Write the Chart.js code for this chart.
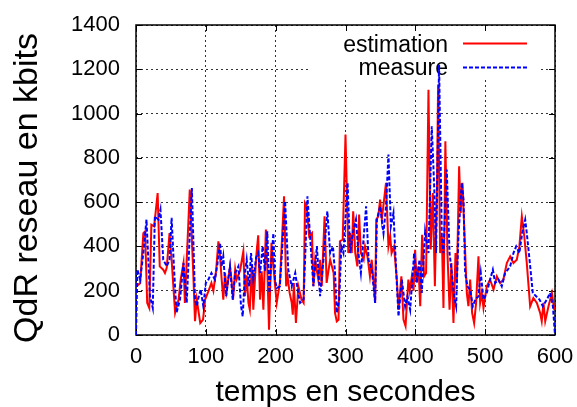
<!DOCTYPE html>
<html><head><meta charset="utf-8">
<script src="https://cdn.jsdelivr.net/npm/chart.js@4"></script>
<style>html,body{margin:0;padding:0;background:#fff}canvas{display:block}</style>
</head><body>
<canvas id="c" width="577" height="407"></canvas>
<script>
const xTicks = [0, 100, 200, 300, 400, 500, 600];
const yTicks = [0, 200, 400, 600, 800, 1000, 1200, 1400];
const seriesLabels = ['estimation', 'measure'];
const xTitle = 'temps en secondes';
const yTitle = 'QdR reseau en kbits';

const estTime = [
  1,6,10.5,13,16, 19,22,26,31,34, 39,41.5,44,48,51, 56,61,64,68,70, 77,82,84.5,87,92,
  96,99,103.6,108,110.8, 114.6,118,120.3,122.7,125, 127.5,130,134.6,137,139, 142,144,149,153.7,156, 158.5,161,163,165.7,168, 172,175,177.6,180,182.4, 186,188,190.5,194,196.7, 201.5,206,
  212,215,217,220,223, 224.5,226,229,232.5,237, 240,242,244.5,248,252, 254,256.5,261,263.5,266, 270,273,278,283,285, 287.5,290,292,296,300, 304,306.5,309,311,314, 317,319.5,322,326,328, 331.5,335,337.5,340,342.5, 344,347,349.5,352,358, 361.5,364,366,369.5,373.5, 376,380,
  383,386,390,392,395, 397.5,399.7,402,404.5,407, 409.7,
  412.6,415.4,418.8,422,425, 428,431,432.6,435.5,438, 440.3,443,446,449,451.7, 454.6,457.5,459.4,462.7,465, 467.5,470.3,473.7,476,478.5, 481.3,484.2,487,490.4,492.8, 495.2,497.6,502.3,507,512, 516.7,521.4,526,531,535.8, 540.5,545.3,549,552.5,556, 559.6,564.4,569,574,578.7, 581,583.5,586,590.7,595.5, 599];
const estValue = [
  220,235,460,468,145, 122,498,491,641,310, 295,280,303,460,340, 100,160,250,325,145, 657,280,62,160,54,
  70,160,197,235,200, 288,423,355,250,160, 280,200,310,240,160, 295,250,290,378,175, 270,145,114,310,114, 348,450,160,288,114, 476,310,24,416,310, 145,235,
  626,220,265,190,145, 92,235,54,220,160, 145,596,581,446,460, 220,340,250,340,220, 536,235,340,280,100, 62,69,423,431,905, 370,460,370,559,370, 310,544,370,340,400, 355,265,340,250,145, 521,536,611,521,687, 400,446,370,400,250, 114,265,
  70,40,250,200,265, 200,385,240,310,130, 453,
  265,280,1108,386,641, 220,672,1131,370,446, 122,875,370,114,325, 54,370,235,762,551, 687,460,190,130,250, 100,54,145,355,145, 190,122,220,250,205, 265,235,250,325,355, 325,340,400,536,446, 325,130,167,145,100, 62,145,62,130,190, 114];

const measTime = [
  0,2,6,10.5,15, 20,24,27,32,35, 39,44,48,51,54.5, 58,63,68,72.6,80,
  84.5,87,89.5,92.6,96.4, 100,103.6,108,113,116.5, 120.3,122.7,125,129,132, 134.6,138.5,142,146.6,150.4, 152.8,156,158.5,162,164.7, 168,172,175,177.6,181.4, 184.8,188,191,193,196.7, 199,201.5,
  206,213.5,218,223,228, 232.6,235,240,245.5,249, 254,259,263.6,268.4,274, 278,282,285,287.5,291, 294,297,303,306.6,310.4, 315,318.5,322,329.5,333, 337.7,342.4,345,349.6,354.4, 358,361.5,365,368.7,372.5, 375.9,380.6,385.4,388.7,392.6, 398.3,402,406,409.2,414, 418.8,423.5,427,429.7,434, 437.9,440.3,445,449,452.2, 455.5,458.4,461.7,466.5,469, 471.3,474.6,478.5,482.3,486, 490.4,493.7,497.6,502.3,507, 511,514.3,519,523.8,528.6, 532.4,535.8,540.5,544.4,549, 553,557.3,559.6,563.5,568.2, 573,577.8,582.6,588.3,593, 597,600];
const measValue = [
  0,295,250,370,521, 175,122,536,521,566, 340,310,340,529,295, 100,160,325,145,664,
  160,130,170,205,130, 235,250,280,250,318, 416,310,355,175,250, 310,160,280,310,130, 84,280,340,220,370, 250,350,370,280,400, 290,468,190,290,460, 250,212,
  220,604,295,220,280, 182,145,160,626,460, 220,400,175,340,559, 370,400,280,100,160, 400,370,687,370,460, 521,370,280,581,340, 295,145,521,581,460, 581,815,491,551,295, 84,250,130,175,114, 370,235,340,190,468, 370,943,672,370,1220, 446,370,747,370,280, 175,130,446,687,611, 280,220,205,130,160, 175,280,160,190,250, 295,235,250,220,280, 295,310,370,400,370, 460,521,460,340,190, 175,160,130,160,190, 130,0];

const FONT = '"Liberation Sans", Arial, Helvetica, sans-serif';
const toPoints = (t, v) => t.slice(0, Math.min(t.length, v.length)).map((x, i) => ({ x: x, y: v[i] }));

const framePlugin = {
  id: 'frame',
  beforeDatasetsDraw(chart) {
    const { ctx, chartArea: a, scales } = chart;
    ctx.save();
    // opaque key box
    ctx.fillStyle = '#fff';
    ctx.fillRect(a.right - 245, a.top + 1, 230, 54);
    // key text and samples
    ctx.fillStyle = '#000';
    ctx.font = '23px ' + FONT;
    ctx.textAlign = 'right';
    ctx.textBaseline = 'alphabetic';
    ctx.fillText(seriesLabels[0], a.right - 107, a.top + 27);
    ctx.fillText(seriesLabels[1], a.right - 107, a.top + 50);
    ctx.lineWidth = 2;
    ctx.strokeStyle = '#ff0000';
    ctx.beginPath(); ctx.moveTo(a.right - 92, a.top + 18.5); ctx.lineTo(a.right - 28, a.top + 18.5); ctx.stroke();
    ctx.strokeStyle = '#0000ff';
    ctx.setLineDash([4, 2]);
    ctx.beginPath(); ctx.moveTo(a.right - 92, a.top + 42.5); ctx.lineTo(a.right - 28, a.top + 42.5); ctx.stroke();
    ctx.setLineDash([]);
    // border
    ctx.strokeStyle = '#000';
    ctx.lineWidth = 1.5;
    ctx.strokeRect(a.left, a.top, a.right - a.left, a.bottom - a.top);
    // inward ticks, mirrored
    ctx.lineWidth = 1;
    ctx.beginPath();
    xTicks.forEach(v => {
      const px = Math.round(scales.x.getPixelForValue(v)) + 0.5;
      ctx.moveTo(px, a.bottom); ctx.lineTo(px, a.bottom - 6);
      ctx.moveTo(px, a.top); ctx.lineTo(px, a.top + 6);
    });
    yTicks.forEach(v => {
      const py = Math.round(scales.y.getPixelForValue(v)) + 0.5;
      ctx.moveTo(a.left, py); ctx.lineTo(a.left + 6, py);
      ctx.moveTo(a.right, py); ctx.lineTo(a.right - 6, py);
    });
    ctx.stroke();
    ctx.restore();
  },
  afterDraw(chart) {
    const { ctx, chartArea: a } = chart;
    ctx.save();
    ctx.fillStyle = '#000';
    ctx.textAlign = 'center';
    ctx.textBaseline = 'alphabetic';
    ctx.font = '30px ' + FONT;
    ctx.fillText(xTitle, (a.left + a.right) / 2, a.bottom + 66);
    ctx.translate(37, (a.top + a.bottom) / 2 + 8);
    ctx.rotate(-Math.PI / 2);
    ctx.font = '34px ' + FONT;
    ctx.fillText(yTitle, 0, 0);
    ctx.restore();
  }
};

const zeroPad = s => { s.paddingLeft = 0; s.paddingRight = 0; s.paddingTop = 0; s.paddingBottom = 0; };

new Chart(document.getElementById('c'), {
  type: 'line',
  data: {
    datasets: [
      {
        label: seriesLabels[0],
        data: toPoints(estTime, estValue),
        borderColor: '#ff0000',
        borderWidth: 2,
        pointRadius: 0,
        tension: 0,
        fill: false,
        order: 1
      },
      {
        label: seriesLabels[1],
        data: toPoints(measTime, measValue),
        borderColor: '#0000ff',
        borderWidth: 2,
        borderDash: [4, 2],
        pointRadius: 0,
        tension: 0,
        fill: false,
        order: 0
      }
    ]
  },
  options: {
    responsive: false,
    animation: false,
    events: [],
    layout: { autoPadding: false, padding: { top: 25, right: 22, left: 0, bottom: 0 } },
    plugins: { legend: { display: false }, tooltip: { enabled: false } },
    scales: {
      x: {
        type: 'linear',
        min: 0, max: 600,
        afterBuildTicks: s => { s.ticks = xTicks.map(v => ({ value: v })); },
        afterFit: s => { s.height = 72; zeroPad(s); },
        grid: { color: 'rgba(0,0,0,0.8)', lineWidth: 1, drawTicks: false },
        border: { display: false, dash: [2, 3] },
        ticks: { color: '#000', padding: 9, maxRotation: 0, callback: v => String(v), font: { family: FONT, size: 22 } }
      },
      y: {
        type: 'linear',
        min: 0, max: 1400,
        afterBuildTicks: s => { s.ticks = yTicks.map(v => ({ value: v })); },
        afterFit: s => { s.width = 136; zeroPad(s); },
        grid: { color: 'rgba(0,0,0,0.8)', lineWidth: 1, drawTicks: false },
        border: { display: false, dash: [2, 3] },
        ticks: { color: '#000', padding: 16, callback: v => String(v), font: { family: FONT, size: 22 } }
      }
    }
  },
  plugins: [framePlugin]
});
</script>
</body></html>
